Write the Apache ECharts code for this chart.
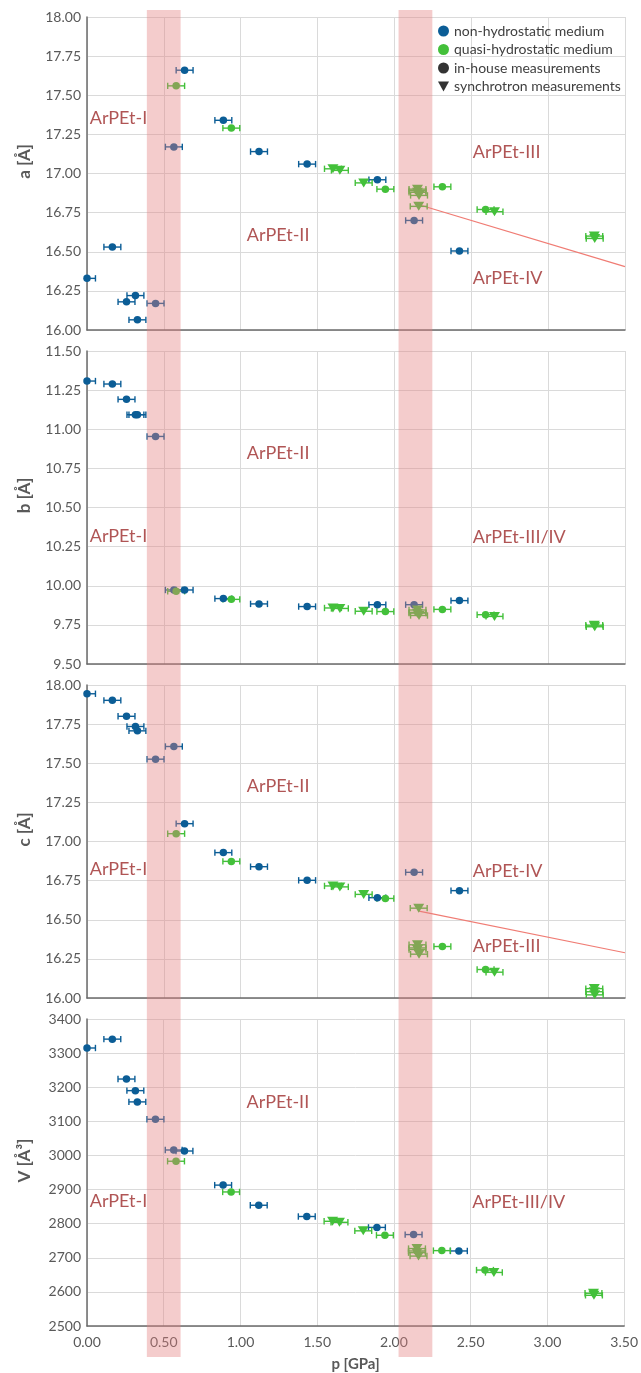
<!DOCTYPE html>
<html>
<head>
<meta charset="utf-8">
<script src="https://cdn.jsdelivr.net/npm/echarts@6/dist/echarts.min.js"></script>
<style>
html,body{margin:0;padding:0;background:#fff;}
#chart{width:641px;height:1373px;}
</style>
</head>
<body>
<div id="chart"></div>
<script>
// ---------- data ----------
const xTicks = [0, 3.5, 0.5];

// panel a
const aBlue = [[0.00,16.33],[0.165,16.53],[0.257,16.18],[0.315,16.22],[0.328,16.065],[0.446,16.17],[0.565,17.17],[0.635,17.66],[0.887,17.34],[1.119,17.14],[1.432,17.06],[1.889,16.96],[2.128,16.70],[2.423,16.505]];
const aGreenCircle = [[0.580,17.56],[0.939,17.29],[1.941,16.90],[2.150,16.89],[2.312,16.915],[2.593,16.77]];
const aGreenTri = [[1.600,17.03],[1.645,17.02],[1.800,16.94],[2.150,16.90],[2.150,16.88],[2.160,16.86],[2.158,16.79],[2.651,16.756],[3.300,16.60],[3.303,16.585]];
const aTrend = [[2.16,16.80],[3.5,16.405]];

// panel b
const bBlue = [[0.00,11.308],[0.165,11.289],[0.257,11.191],[0.315,11.093],[0.328,11.093],[0.446,10.954],[0.565,9.973],[0.635,9.973],[0.887,9.918],[1.119,9.884],[1.432,9.867],[1.889,9.879],[2.128,9.879],[2.423,9.905]];
const bGreenCircle = [[0.580,9.965],[0.939,9.913],[1.941,9.835],[2.150,9.83],[2.312,9.849],[2.593,9.815]];
const bGreenTri = [[1.600,9.858],[1.645,9.855],[1.800,9.837],[2.150,9.845],[2.150,9.825],[2.160,9.81],[2.651,9.804],[3.300,9.748],[3.303,9.738]];

// panel c
const cBlue = [[0.00,17.944],[0.165,17.902],[0.257,17.80],[0.315,17.735],[0.328,17.707],[0.446,17.526],[0.565,17.607],[0.635,17.114],[0.887,16.929],[1.119,16.839],[1.432,16.752],[1.889,16.641],[2.128,16.803],[2.423,16.686]];
const cGreenCircle = [[0.580,17.05],[0.939,16.873],[1.941,16.636],[2.150,16.32],[2.312,16.329],[2.593,16.182]];
const cGreenTri = [[1.600,16.716],[1.645,16.71],[1.800,16.662],[2.150,16.34],[2.150,16.31],[2.160,16.28],[2.158,16.574],[2.651,16.165],[3.300,16.06],[3.300,16.04],[3.303,16.02]];
const cTrend = [[2.16,16.555],[3.5,16.289]];

// panel V
const vBlue = [[0.00,3315],[0.165,3341],[0.257,3224],[0.315,3190],[0.328,3157],[0.446,3106],[0.565,3016],[0.635,3013],[0.887,2913],[1.119,2854],[1.432,2821],[1.889,2789],[2.128,2768],[2.423,2720]];
const vGreenCircle = [[0.580,2983],[0.939,2893],[1.941,2766],[2.150,2720],[2.312,2721],[2.593,2664]];
const vGreenTri = [[1.600,2807],[1.645,2804],[1.800,2779],[2.150,2727],[2.150,2715],[2.160,2705],[2.651,2657],[3.300,2596],[3.303,2590]];

// phase transition bands (GPa)
const bands = [[0.39,0.61],[2.03,2.25]];
const P_ERR = 0.055;

// phase labels [p, value, text]
const aLabels = [[0.018,17.354,'ArPEt-I'],[1.04,16.607,'ArPEt-II'],[2.51,17.137,'ArPEt-III'],[2.51,16.33,'ArPEt-IV']];
const bLabels = [[0.018,10.316,'ArPEt-I'],[1.04,10.847,'ArPEt-II'],[2.51,10.308,'ArPEt-III/IV']];
const cLabels = [[0.018,16.822,'ArPEt-I'],[1.04,17.353,'ArPEt-II'],[2.51,16.809,'ArPEt-IV'],[2.51,16.329,'ArPEt-III']];
const vLabels = [[0.018,2866,'ArPEt-I'],[1.04,3157,'ArPEt-II'],[2.51,2863,'ArPEt-III/IV']];

const yNames = ['a [Å]','b [Å]','c [Å]','V [Å³]'];
const yRanges = [[16,18,0.25],[9.5,11.5,0.25],[16,18,0.25],[2500,3400,100]];

// ---------- styling ----------
const BLUE = '#0b5d96';
const GREEN = '#43c03a';
const LABEL_RED = '#9c2b2a';
const FONT = 'Lato, "Open Sans", sans-serif';
const GRID_TOPS = [17, 351, 685, 1019];
const GRID_H = 313;
const GRID_LEFT = 87, GRID_RIGHT = 16;
const BAND_TOP = 10, BAND_BELOW = 31;

const panels = [
  {blue:aBlue, gc:aGreenCircle, gt:aGreenTri, trend:aTrend, labels:aLabels},
  {blue:bBlue, gc:bGreenCircle, gt:bGreenTri, trend:null, labels:bLabels},
  {blue:cBlue, gc:cGreenCircle, gt:cGreenTri, trend:cTrend, labels:cLabels},
  {blue:vBlue, gc:vGreenCircle, gt:vGreenTri, trend:null, labels:vLabels}
];

function errBar(idx, data, color) {
  return {
    type:'custom', xAxisIndex:idx, yAxisIndex:idx, data:data, z:2, silent:true, clip:true,
    renderItem:function(params, api){
      const p = api.value(0), v = api.value(1);
      const a = api.coord([p-P_ERR, v]), b = api.coord([p+P_ERR, v]);
      const h = 3.2;
      const st = {stroke:color, lineWidth:1.4, fill:null};
      return {type:'group', children:[
        {type:'line', shape:{x1:a[0],y1:a[1],x2:b[0],y2:b[1]}, style:st},
        {type:'line', shape:{x1:a[0],y1:a[1]-h,x2:a[0],y2:a[1]+h}, style:st},
        {type:'line', shape:{x1:b[0],y1:b[1]-h,x2:b[0],y2:b[1]+h}, style:st}
      ]};
    }
  };
}

const grids = [], xAxes = [], yAxes = [], series = [];
GRID_TOPS.forEach(function(top, i){
  grids.push({left:GRID_LEFT, right:GRID_RIGHT, top:top, height:GRID_H, containLabel:false});
  const last = i === 3;
  xAxes.push({
    type:'value', gridIndex:i, min:xTicks[0], max:xTicks[1], interval:xTicks[2],
    axisLine:{show:true, onZero:false, lineStyle:{color:'#6b6b6b', width:1.5}},
    axisTick:{show:false},
    splitLine:{show:true, lineStyle:{color:'#dadada', width:1}},
    axisLabel:{show:last, color:'#595959', fontSize:14, fontFamily:FONT, margin:9,
      formatter:function(v){return v.toFixed(2);}},
    name: last ? 'p [GPa]' : '', nameLocation:'middle', nameGap:31,
    nameTextStyle:{fontWeight:'bold', fontSize:15, color:'#595959', fontFamily:FONT}
  });
  const r = yRanges[i];
  yAxes.push({
    type:'value', gridIndex:i, min:r[0], max:r[1], interval:r[2],
    axisLine:{show:true, onZero:false, lineStyle:{color:'#6b6b6b', width:1.5}},
    axisTick:{show:false},
    splitLine:{show:true, lineStyle:{color:'#dadada', width:1}},
    axisLabel:{color:'#595959', fontSize:14, fontFamily:FONT, margin:6,
      formatter:function(v){return i===3 ? String(Math.round(v)) : v.toFixed(2);}},
    name:yNames[i], nameLocation:'middle', nameGap:54, nameRotate:90,
    nameTextStyle:{fontWeight:'bold', fontSize:17, color:'#595959', fontFamily:FONT, padding:[0,0,0,24]}
  });

  const P = panels[i];
  if (P.trend) {
    series.push({type:'line', xAxisIndex:i, yAxisIndex:i, data:P.trend, symbol:'none', silent:true, z:1,
      lineStyle:{color:'#f07c74', width:1.2}});
  }
  series.push(errBar(i, P.blue, BLUE));
  series.push(errBar(i, P.gc, GREEN));
  series.push(errBar(i, P.gt, GREEN));
  series.push({type:'scatter', name:'non-hydrostatic medium', xAxisIndex:i, yAxisIndex:i, data:P.blue,
    symbol:'circle', symbolSize:7.5, clip:false, z:3, itemStyle:{color:BLUE, opacity:1}});
  series.push({type:'scatter', name:'quasi-hydrostatic medium', xAxisIndex:i, yAxisIndex:i, data:P.gc,
    symbol:'circle', symbolSize:7.5, clip:false, z:3, itemStyle:{color:GREEN, opacity:1}});
  series.push({type:'scatter', name:'quasi-hydrostatic medium', xAxisIndex:i, yAxisIndex:i, data:P.gt,
    symbol:'triangle', symbolRotate:180, symbolSize:[11,9], clip:false, z:3, itemStyle:{color:GREEN, opacity:1}});
  series.push({type:'scatter', xAxisIndex:i, yAxisIndex:i, silent:true, z:20,
    data:P.labels.map(function(l){return {value:[l[0], l[1]], name:l[2]};}),
    symbolSize:1, itemStyle:{color:'rgba(0,0,0,0)'},
    label:{show:true, position:'inside', align:'left', verticalAlign:'middle',
      formatter:function(p){return p.name;}, color:LABEL_RED, fontSize:18, fontFamily:FONT}
  });
});

// dummy series for legend entries
series.push({type:'scatter', name:'in-house measurements', xAxisIndex:0, yAxisIndex:0, data:[], itemStyle:{color:'#000'}});
series.push({type:'scatter', name:'synchrotron measurements', xAxisIndex:0, yAxisIndex:0, data:[], itemStyle:{color:'#000'}});

// phase-transition bands spanning all panels
series.push({
  type:'custom', xAxisIndex:3, yAxisIndex:3, data:bands, z:10, silent:true, clip:false,
  renderItem:function(params, api){
    const ymin = yRanges[3][0];
    const p0 = api.coord([api.value(0), ymin]);
    const p1 = api.coord([api.value(1), ymin]);
    return {type:'rect', shape:{x:p0[0], y:BAND_TOP, width:p1[0]-p0[0], height:p0[1]+BAND_BELOW-BAND_TOP},
      style:{fill:'rgba(228,128,128,0.4)'}};
  }
});

const option = {
  animation:false,
  backgroundColor:'#fff',
  textStyle:{fontFamily:FONT},
  grid:grids, xAxis:xAxes, yAxis:yAxes, series:series,
  legend:{
    orient:'vertical', left:433, top:19, itemWidth:11, itemHeight:11, itemGap:4.5,
    selectedMode:false, z:30,
    textStyle:{color:'#404040', fontSize:14, fontFamily:FONT},
    data:[
      {name:'non-hydrostatic medium', icon:'circle', itemStyle:{color:BLUE}},
      {name:'quasi-hydrostatic medium', icon:'circle', itemStyle:{color:GREEN}},
      {name:'in-house measurements', icon:'circle', itemStyle:{color:'#000'}},
      {name:'synchrotron measurements', icon:'path://M0,0L10,0L5,9Z', itemStyle:{color:'#000'}}
    ]
  }
};

const chart = echarts.init(document.getElementById('chart'), null, {renderer:'canvas'});
chart.setOption(option);
</script>
</body>
</html>
